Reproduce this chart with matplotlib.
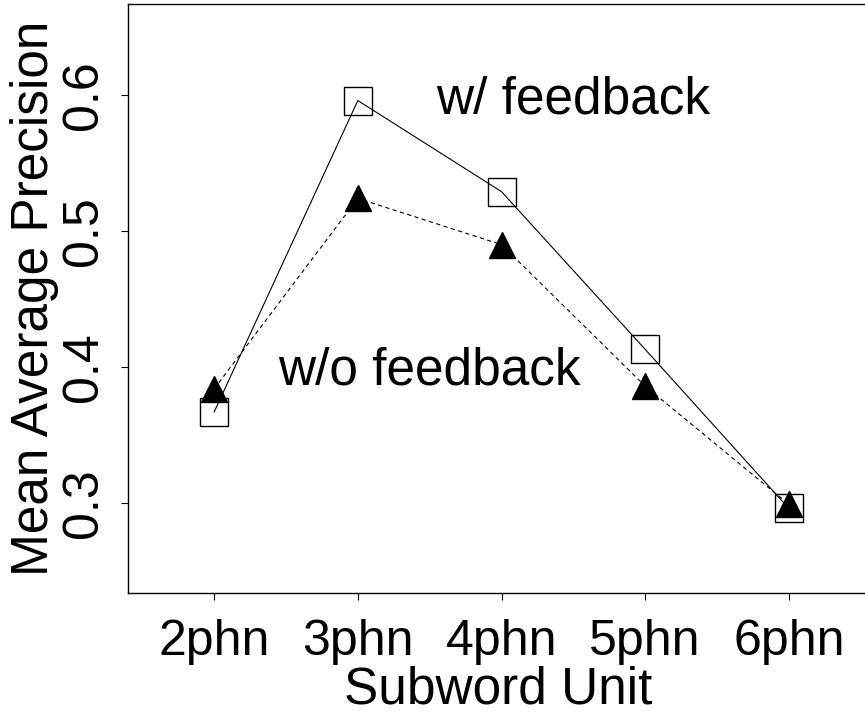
import matplotlib
matplotlib.use("Agg")
import matplotlib.pyplot as plt

plt.rcParams['font.family'] = ['Liberation Sans', 'DejaVu Sans']
plt.rcParams['lines.scale_dashes'] = False

categories = ["2phn", "3phn", "4phn", "5phn", "6phn"]
x_pos = [2, 3, 4, 5, 6]
with_feedback = [0.367, 0.596, 0.529, 0.413, 0.296]
without_feedback = [0.384, 0.524, 0.490, 0.386, 0.299]
y_ticks = [0.3, 0.4, 0.5, 0.6]
y_tick_labels = ["0.3", "0.4", "0.5", "0.6"]

W, H = 865, 712
fig = plt.figure(figsize=(W / 100, H / 100), dpi=100)
left, right, top, bottom = 128, 875, 4, 593
ax = fig.add_axes([left / W, (H - bottom) / H, (right - left) / W, (bottom - top) / H])

ax.plot(x_pos, with_feedback, color='black', lw=0.8, marker='s', ms=20,
        mfc='none', mec='black', mew=1.0, zorder=3)
ax.plot(x_pos, without_feedback, color='black', lw=0.8, dashes=[3, 2.5],
        marker='^', ms=19, mfc='black', mec='black', zorder=4)

ax.set_xlim(1.4, 6.6)
ax.set_ylim(0.2338, 0.667)

ax.set_xticks(x_pos)
ax.set_xticklabels(categories, fontsize=36)
ax.set_yticks(y_ticks)
ax.set_yticklabels(y_tick_labels, fontsize=36, rotation=90, va='center')
ax.tick_params(axis='both', direction='out', length=5, width=0.8, color='black')
ax.tick_params(axis='x', pad=14)
ax.tick_params(axis='y', pad=10)

for s in ax.spines.values():
    s.set_linewidth(1.0)
    s.set_color('black')

fig.text(498 / W, 1 - 704 / H, "Subword Unit", fontsize=37, ha='center', va='baseline')
fig.text(48 / W, 1 - 298 / H, "Mean Average Precision", fontsize=37, rotation=90,
         rotation_mode='anchor', ha='center', va='baseline')

ax.text(4.5, 0.5868, "w/ feedback", fontsize=37, ha='center', va='baseline')
ax.text(3.5, 0.3868, "w/o feedback", fontsize=37, ha='center', va='baseline')

fig.savefig("out.png", dpi=100)
